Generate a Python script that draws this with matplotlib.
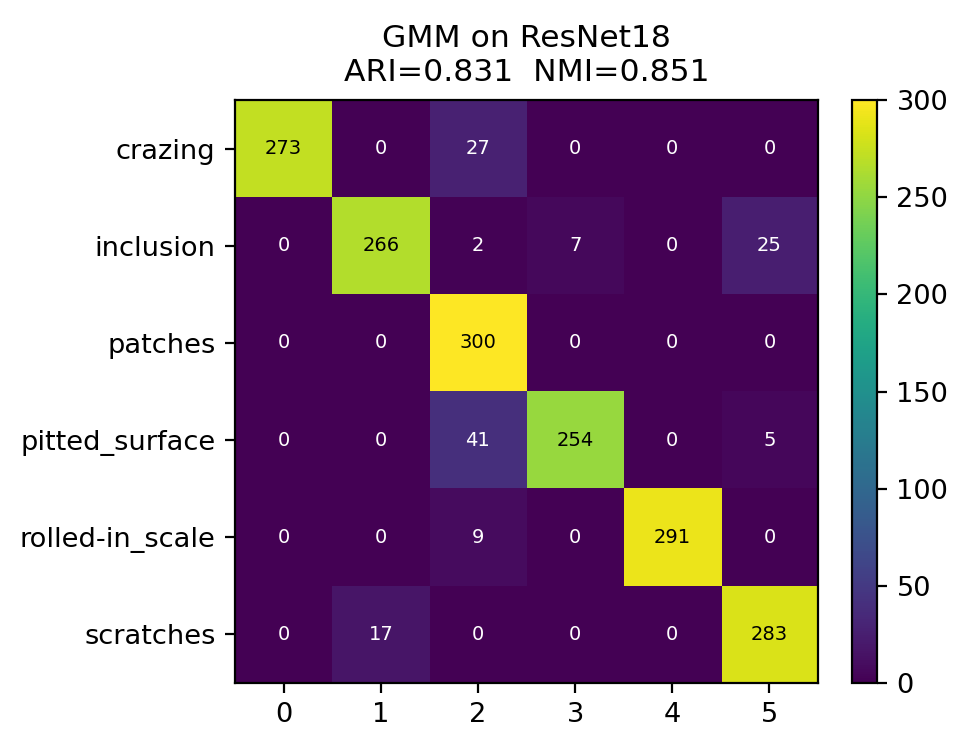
import numpy as np
import matplotlib
matplotlib.use("Agg")
import matplotlib.pyplot as plt

classes = ["crazing", "inclusion", "patches", "pitted_surface", "rolled-in_scale", "scratches"]
clusters = ["0", "1", "2", "3", "4", "5"]
row_crazing = [273, 0, 27, 0, 0, 0]
row_inclusion = [0, 266, 2, 7, 0, 25]
row_patches = [0, 0, 300, 0, 0, 0]
row_pitted = [0, 0, 41, 254, 0, 5]
row_rolled = [0, 0, 9, 0, 291, 0]
row_scratches = [0, 17, 0, 0, 0, 283]
title = "GMM on ResNet18\nARI=0.831  NMI=0.851"

cm = np.array([row_crazing, row_inclusion, row_patches, row_pitted, row_rolled, row_scratches])

fig = plt.figure(figsize=(9.71 / 2, 7.48 / 2), dpi=200)
ax = fig.add_axes([235 / 971, 1 - 683 / 748, 583 / 971, 583 / 748])
cax = fig.add_axes([852 / 971, 1 - 683 / 748, 25 / 971, 583 / 748])

im = ax.imshow(cm, cmap="viridis", vmin=0, vmax=cm.max(), aspect="auto")
cb = fig.colorbar(im, cax=cax)
cb.ax.tick_params(labelsize=9.8)

ax.set_xticks(range(len(clusters)))
ax.set_xticklabels(clusters)
ax.set_yticks(range(len(classes)))
ax.set_yticklabels(classes)
ax.tick_params(labelsize=9.8)
ax.set_title(title, fontsize=11.3, pad=7)

thresh = cm.max() / 2
for i in range(cm.shape[0]):
    for j in range(cm.shape[1]):
        ax.text(j, i, str(cm[i, j]), ha="center", va="center", fontsize=7,
                color="black" if cm[i, j] > thresh else "white")

fig.savefig("out.png", dpi=200)
